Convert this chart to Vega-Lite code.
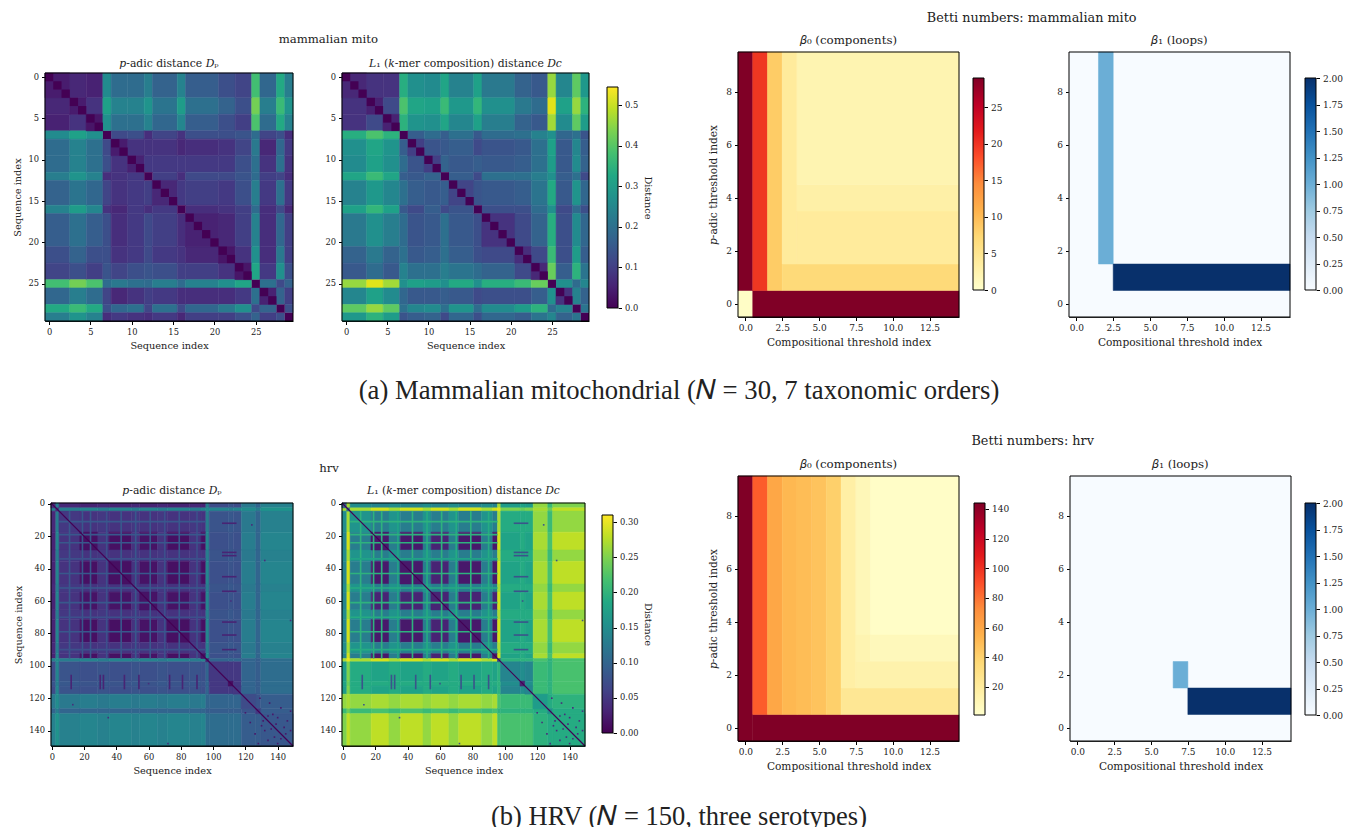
{"$schema":"https://vega.github.io/schema/vega-lite/v6.json","padding":{"left":11,"top":11,"right":0,"bottom":0},"background":"white","data":{"values":[{}]},
"config":{"view":{"stroke":null},"axis":{"labelFont":"DejaVu Serif","titleFont":"DejaVu Serif","labelFontSize":8.3,"titleFontSize":9.75,"titleFontWeight":"normal","grid":false,"tickColor":"black","domainColor":"black","tickSize":3.5,"labelColor":"#222","titleColor":"#222","labelPadding":3,"titlePadding":5,"labelOverlap":false,"labelFlush":false,"zindex":1},"title":{"font":"DejaVu Serif","fontSize":10.8,"fontWeight":"normal","color":"#222","offset":5},"rect":{"strokeWidth":0.5}},
"datasets":{
"mb":[
{"i":-0.5,"i2":2.5,"j":-0.5,"j2":2.5,"p":0.04,"c":0.06},{"i":-0.5,"i2":2.5,"j":2.5,"j2":4.5,"p":0.06,"c":0.08},{"i":-0.5,"i2":2.5,"j":4.5,"j2":6.5,"p":0.05,"c":0.08},{"i":-0.5,"i2":2.5,"j":6.5,"j2":7.5,"p":0.26,"c":0.34},{"i":-0.5,"i2":2.5,"j":7.5,"j2":9.5,"p":0.19,"c":0.27},{"i":-0.5,"i2":2.5,"j":9.5,"j2":11.5,"p":0.19,"c":0.26},{"i":-0.5,"i2":2.5,"j":11.5,"j2":12.5,"p":0.23,"c":0.32},{"i":-0.5,"i2":2.5,"j":12.5,"j2":15.5,"p":0.17,"c":0.24},{"i":-0.5,"i2":2.5,"j":15.5,"j2":16.5,"p":0.24,"c":0.31},{"i":-0.5,"i2":2.5,"j":16.5,"j2":20.5,"p":0.16,"c":0.22},{"i":-0.5,"i2":2.5,"j":20.5,"j2":22.5,"p":0.13,"c":0.17},{"i":-0.5,"i2":2.5,"j":22.5,"j2":24.5,"p":0.11,"c":0.15},{"i":-0.5,"i2":2.5,"j":24.5,"j2":25.5,"p":0.38,"c":0.46},{"i":-0.5,"i2":2.5,"j":25.5,"j2":27.5,"p":0.18,"c":0.25},{"i":-0.5,"i2":2.5,"j":27.5,"j2":28.5,"p":0.33,"c":0.41},{"i":-0.5,"i2":2.5,"j":28.5,"j2":29.5,"p":0.23,"c":0.29},
{"i":2.5,"i2":4.5,"j":2.5,"j2":4.5,"p":0.04,"c":0.05},{"i":2.5,"i2":4.5,"j":4.5,"j2":6.5,"p":0.08,"c":0.12},{"i":2.5,"i2":4.5,"j":6.5,"j2":7.5,"p":0.31,"c":0.39},{"i":2.5,"i2":4.5,"j":7.5,"j2":9.5,"p":0.24,"c":0.32},{"i":2.5,"i2":4.5,"j":9.5,"j2":11.5,"p":0.24,"c":0.31},{"i":2.5,"i2":4.5,"j":11.5,"j2":12.5,"p":0.28,"c":0.37},{"i":2.5,"i2":4.5,"j":12.5,"j2":15.5,"p":0.21,"c":0.29},{"i":2.5,"i2":4.5,"j":15.5,"j2":16.5,"p":0.3,"c":0.36},{"i":2.5,"i2":4.5,"j":16.5,"j2":20.5,"p":0.2,"c":0.27},{"i":2.5,"i2":4.5,"j":20.5,"j2":22.5,"p":0.17,"c":0.22},{"i":2.5,"i2":4.5,"j":22.5,"j2":24.5,"p":0.13,"c":0.19},{"i":2.5,"i2":4.5,"j":24.5,"j2":25.5,"p":0.43,"c":0.52},{"i":2.5,"i2":4.5,"j":25.5,"j2":27.5,"p":0.23,"c":0.31},{"i":2.5,"i2":4.5,"j":27.5,"j2":28.5,"p":0.37,"c":0.46},{"i":2.5,"i2":4.5,"j":28.5,"j2":29.5,"p":0.28,"c":0.35},
{"i":4.5,"i2":6.5,"j":4.5,"j2":6.5,"p":0.03,"c":0.05},{"i":4.5,"i2":6.5,"j":6.5,"j2":7.5,"p":0.27,"c":0.35},{"i":4.5,"i2":6.5,"j":7.5,"j2":9.5,"p":0.2,"c":0.28},{"i":4.5,"i2":6.5,"j":9.5,"j2":11.5,"p":0.2,"c":0.27},{"i":4.5,"i2":6.5,"j":11.5,"j2":12.5,"p":0.24,"c":0.32},{"i":4.5,"i2":6.5,"j":12.5,"j2":15.5,"p":0.18,"c":0.25},{"i":4.5,"i2":6.5,"j":15.5,"j2":16.5,"p":0.25,"c":0.31},{"i":4.5,"i2":6.5,"j":16.5,"j2":20.5,"p":0.16,"c":0.23},{"i":4.5,"i2":6.5,"j":20.5,"j2":22.5,"p":0.13,"c":0.17},{"i":4.5,"i2":6.5,"j":22.5,"j2":24.5,"p":0.1,"c":0.15},{"i":4.5,"i2":6.5,"j":24.5,"j2":25.5,"p":0.39,"c":0.47},{"i":4.5,"i2":6.5,"j":25.5,"j2":27.5,"p":0.19,"c":0.26},{"i":4.5,"i2":6.5,"j":27.5,"j2":28.5,"p":0.33,"c":0.41},{"i":4.5,"i2":6.5,"j":28.5,"j2":29.5,"p":0.24,"c":0.3},
{"i":6.5,"i2":7.5,"j":7.5,"j2":9.5,"p":0.12,"c":0.16},{"i":6.5,"i2":7.5,"j":9.5,"j2":11.5,"p":0.13,"c":0.19},{"i":6.5,"i2":7.5,"j":11.5,"j2":12.5,"p":0.07,"c":0.16},{"i":6.5,"i2":7.5,"j":12.5,"j2":15.5,"p":0.11,"c":0.2},{"i":6.5,"i2":7.5,"j":15.5,"j2":16.5,"p":0.08,"c":0.15},{"i":6.5,"i2":7.5,"j":16.5,"j2":20.5,"p":0.13,"c":0.19},{"i":6.5,"i2":7.5,"j":20.5,"j2":22.5,"p":0.13,"c":0.2},{"i":6.5,"i2":7.5,"j":22.5,"j2":24.5,"p":0.14,"c":0.24},{"i":6.5,"i2":7.5,"j":24.5,"j2":25.5,"p":0.19,"c":0.27},{"i":6.5,"i2":7.5,"j":25.5,"j2":27.5,"p":0.11,"c":0.18},{"i":6.5,"i2":7.5,"j":27.5,"j2":28.5,"p":0.13,"c":0.2},{"i":6.5,"i2":7.5,"j":28.5,"j2":29.5,"p":0.07,"c":0.14},
{"i":7.5,"i2":9.5,"j":7.5,"j2":9.5,"p":0.04,"c":0.1},{"i":7.5,"i2":9.5,"j":9.5,"j2":11.5,"p":0.08,"c":0.14},{"i":7.5,"i2":9.5,"j":11.5,"j2":12.5,"p":0.08,"c":0.15},{"i":7.5,"i2":9.5,"j":12.5,"j2":15.5,"p":0.08,"c":0.16},{"i":7.5,"i2":9.5,"j":15.5,"j2":16.5,"p":0.06,"c":0.12},{"i":7.5,"i2":9.5,"j":16.5,"j2":20.5,"p":0.07,"c":0.14},{"i":7.5,"i2":9.5,"j":20.5,"j2":22.5,"p":0.08,"c":0.15},{"i":7.5,"i2":9.5,"j":22.5,"j2":24.5,"p":0.11,"c":0.2},{"i":7.5,"i2":9.5,"j":24.5,"j2":25.5,"p":0.22,"c":0.31},{"i":7.5,"i2":9.5,"j":25.5,"j2":27.5,"p":0.06,"c":0.15},{"i":7.5,"i2":9.5,"j":27.5,"j2":28.5,"p":0.18,"c":0.25},{"i":7.5,"i2":9.5,"j":28.5,"j2":29.5,"p":0.09,"c":0.16},
{"i":9.5,"i2":11.5,"j":9.5,"j2":11.5,"p":0.05,"c":0.1},{"i":9.5,"i2":11.5,"j":11.5,"j2":12.5,"p":0.09,"c":0.17},{"i":9.5,"i2":11.5,"j":12.5,"j2":15.5,"p":0.09,"c":0.15},{"i":9.5,"i2":11.5,"j":15.5,"j2":16.5,"p":0.09,"c":0.16},{"i":9.5,"i2":11.5,"j":16.5,"j2":20.5,"p":0.09,"c":0.15},{"i":9.5,"i2":11.5,"j":20.5,"j2":22.5,"p":0.09,"c":0.16},{"i":9.5,"i2":11.5,"j":22.5,"j2":24.5,"p":0.13,"c":0.2},{"i":9.5,"i2":11.5,"j":24.5,"j2":25.5,"p":0.2,"c":0.3},{"i":9.5,"i2":11.5,"j":25.5,"j2":27.5,"p":0.08,"c":0.15},{"i":9.5,"i2":11.5,"j":27.5,"j2":28.5,"p":0.2,"c":0.26},{"i":9.5,"i2":11.5,"j":28.5,"j2":29.5,"p":0.08,"c":0.17},
{"i":11.5,"i2":12.5,"j":12.5,"j2":15.5,"p":0.1,"c":0.16},{"i":11.5,"i2":12.5,"j":15.5,"j2":16.5,"p":0.07,"c":0.12},{"i":11.5,"i2":12.5,"j":16.5,"j2":20.5,"p":0.12,"c":0.2},{"i":11.5,"i2":12.5,"j":20.5,"j2":22.5,"p":0.12,"c":0.2},{"i":11.5,"i2":12.5,"j":22.5,"j2":24.5,"p":0.14,"c":0.23},{"i":11.5,"i2":12.5,"j":24.5,"j2":25.5,"p":0.19,"c":0.27},{"i":11.5,"i2":12.5,"j":25.5,"j2":27.5,"p":0.1,"c":0.16},{"i":11.5,"i2":12.5,"j":27.5,"j2":28.5,"p":0.11,"c":0.2},{"i":11.5,"i2":12.5,"j":28.5,"j2":29.5,"p":0.07,"c":0.12},
{"i":12.5,"i2":15.5,"j":12.5,"j2":15.5,"p":0.06,"c":0.11},{"i":12.5,"i2":15.5,"j":15.5,"j2":16.5,"p":0.09,"c":0.14},{"i":12.5,"i2":15.5,"j":16.5,"j2":20.5,"p":0.1,"c":0.15},{"i":12.5,"i2":15.5,"j":20.5,"j2":22.5,"p":0.09,"c":0.16},{"i":12.5,"i2":15.5,"j":22.5,"j2":24.5,"p":0.13,"c":0.21},{"i":12.5,"i2":15.5,"j":24.5,"j2":25.5,"p":0.23,"c":0.33},{"i":12.5,"i2":15.5,"j":25.5,"j2":27.5,"p":0.09,"c":0.15},{"i":12.5,"i2":15.5,"j":27.5,"j2":28.5,"p":0.2,"c":0.28},{"i":12.5,"i2":15.5,"j":28.5,"j2":29.5,"p":0.09,"c":0.18},
{"i":15.5,"i2":16.5,"j":16.5,"j2":20.5,"p":0.07,"c":0.13},{"i":15.5,"i2":16.5,"j":20.5,"j2":22.5,"p":0.08,"c":0.13},{"i":15.5,"i2":16.5,"j":22.5,"j2":24.5,"p":0.1,"c":0.19},{"i":15.5,"i2":16.5,"j":24.5,"j2":25.5,"p":0.19,"c":0.27},{"i":15.5,"i2":16.5,"j":25.5,"j2":27.5,"p":0.07,"c":0.12},{"i":15.5,"i2":16.5,"j":27.5,"j2":28.5,"p":0.12,"c":0.19},{"i":15.5,"i2":16.5,"j":28.5,"j2":29.5,"p":0.06,"c":0.13},
{"i":16.5,"i2":20.5,"j":16.5,"j2":20.5,"p":0.05,"c":0.08},{"i":16.5,"i2":20.5,"j":20.5,"j2":22.5,"p":0.06,"c":0.12},{"i":16.5,"i2":20.5,"j":22.5,"j2":24.5,"p":0.1,"c":0.17},{"i":16.5,"i2":20.5,"j":24.5,"j2":25.5,"p":0.24,"c":0.34},{"i":16.5,"i2":20.5,"j":25.5,"j2":27.5,"p":0.07,"c":0.13},{"i":16.5,"i2":20.5,"j":27.5,"j2":28.5,"p":0.18,"c":0.26},{"i":16.5,"i2":20.5,"j":28.5,"j2":29.5,"p":0.1,"c":0.18},
{"i":20.5,"i2":22.5,"j":20.5,"j2":22.5,"p":0.03,"c":0.07},{"i":20.5,"i2":22.5,"j":22.5,"j2":24.5,"p":0.08,"c":0.12},{"i":20.5,"i2":22.5,"j":24.5,"j2":25.5,"p":0.27,"c":0.37},{"i":20.5,"i2":22.5,"j":25.5,"j2":27.5,"p":0.07,"c":0.13},{"i":20.5,"i2":22.5,"j":27.5,"j2":28.5,"p":0.22,"c":0.3},{"i":20.5,"i2":22.5,"j":28.5,"j2":29.5,"p":0.1,"c":0.16},
{"i":22.5,"i2":24.5,"j":22.5,"j2":24.5,"p":0.03,"c":0.06},{"i":22.5,"i2":24.5,"j":24.5,"j2":25.5,"p":0.32,"c":0.42},{"i":22.5,"i2":24.5,"j":25.5,"j2":27.5,"p":0.09,"c":0.16},{"i":22.5,"i2":24.5,"j":27.5,"j2":28.5,"p":0.27,"c":0.35},{"i":22.5,"i2":24.5,"j":28.5,"j2":29.5,"p":0.13,"c":0.21},
{"i":24.5,"i2":25.5,"j":25.5,"j2":27.5,"p":0.2,"c":0.27},{"i":24.5,"i2":25.5,"j":27.5,"j2":28.5,"p":0.12,"c":0.19},{"i":24.5,"i2":25.5,"j":28.5,"j2":29.5,"p":0.17,"c":0.25},
{"i":25.5,"i2":27.5,"j":25.5,"j2":27.5,"p":0.05,"c":0.08},{"i":25.5,"i2":27.5,"j":27.5,"j2":28.5,"p":0.17,"c":0.24},{"i":25.5,"i2":27.5,"j":28.5,"j2":29.5,"p":0.1,"c":0.17},
{"i":27.5,"i2":28.5,"j":28.5,"j2":29.5,"p":0.13,"c":0.21}
],
"md":[{"a":-0.5,"b":0.5,"v":0},{"a":0.5,"b":1.5,"v":0},{"a":1.5,"b":2.5,"v":0},{"a":2.5,"b":3.5,"v":0},{"a":3.5,"b":4.5,"v":0},{"a":4.5,"b":5.5,"v":0},{"a":5.5,"b":6.5,"v":0},{"a":6.5,"b":7.5,"v":0},{"a":7.5,"b":8.5,"v":0},{"a":8.5,"b":9.5,"v":0},{"a":9.5,"b":10.5,"v":0},{"a":10.5,"b":11.5,"v":0},{"a":11.5,"b":12.5,"v":0},{"a":12.5,"b":13.5,"v":0},{"a":13.5,"b":14.5,"v":0},{"a":14.5,"b":15.5,"v":0},{"a":15.5,"b":16.5,"v":0},{"a":16.5,"b":17.5,"v":0},{"a":17.5,"b":18.5,"v":0},{"a":18.5,"b":19.5,"v":0},{"a":19.5,"b":20.5,"v":0},{"a":20.5,"b":21.5,"v":0},{"a":21.5,"b":22.5,"v":0},{"a":22.5,"b":23.5,"v":0},{"a":23.5,"b":24.5,"v":0},{"a":24.5,"b":25.5,"v":0},{"a":25.5,"b":26.5,"v":0},{"a":26.5,"b":27.5,"v":0},{"a":27.5,"b":28.5,"v":0},{"a":28.5,"b":29.5,"v":0}],
"hb":[
{"i":-0.5,"i2":2.5,"j":-0.5,"j2":2.5,"p":0.04,"c":0.1},{"i":-0.5,"i2":2.5,"j":2.5,"j2":4.5,"p":0.13,"c":0.27},{"i":-0.5,"i2":2.5,"j":4.5,"j2":17.5,"p":0.035,"c":0.15},{"i":-0.5,"i2":2.5,"j":17.5,"j2":28.5,"p":0.03,"c":0.14},{"i":-0.5,"i2":2.5,"j":28.5,"j2":35.5,"p":0.035,"c":0.15},{"i":-0.5,"i2":2.5,"j":35.5,"j2":49.5,"p":0.03,"c":0.14},{"i":-0.5,"i2":2.5,"j":49.5,"j2":54.5,"p":0.035,"c":0.15},{"i":-0.5,"i2":2.5,"j":54.5,"j2":65.5,"p":0.03,"c":0.14},{"i":-0.5,"i2":2.5,"j":65.5,"j2":71.5,"p":0.035,"c":0.15},{"i":-0.5,"i2":2.5,"j":71.5,"j2":85.5,"p":0.03,"c":0.14},{"i":-0.5,"i2":2.5,"j":85.5,"j2":92.5,"p":0.035,"c":0.15},{"i":-0.5,"i2":2.5,"j":92.5,"j2":95.5,"p":0.03,"c":0.14},{"i":-0.5,"i2":2.5,"j":95.5,"j2":97.5,"p":0.13,"c":0.27},{"i":-0.5,"i2":2.5,"j":97.5,"j2":109.5,"p":0.07,"c":0.17},{"i":-0.5,"i2":2.5,"j":109.5,"j2":112.5,"p":0.08,"c":0.18},{"i":-0.5,"i2":2.5,"j":112.5,"j2":117.5,"p":0.07,"c":0.17},{"i":-0.5,"i2":2.5,"j":117.5,"j2":126.5,"p":0.125,"c":0.26},{"i":-0.5,"i2":2.5,"j":126.5,"j2":129.5,"p":0.1,"c":0.21},{"i":-0.5,"i2":2.5,"j":129.5,"j2":149.5,"p":0.135,"c":0.25},
{"i":2.5,"i2":4.5,"j":2.5,"j2":4.5,"p":0.04,"c":0.12},{"i":2.5,"i2":4.5,"j":4.5,"j2":17.5,"p":0.13,"c":0.27},{"i":2.5,"i2":4.5,"j":17.5,"j2":28.5,"p":0.14,"c":0.29},{"i":2.5,"i2":4.5,"j":28.5,"j2":35.5,"p":0.13,"c":0.27},{"i":2.5,"i2":4.5,"j":35.5,"j2":49.5,"p":0.14,"c":0.29},{"i":2.5,"i2":4.5,"j":49.5,"j2":54.5,"p":0.13,"c":0.27},{"i":2.5,"i2":4.5,"j":54.5,"j2":65.5,"p":0.14,"c":0.29},{"i":2.5,"i2":4.5,"j":65.5,"j2":71.5,"p":0.13,"c":0.27},{"i":2.5,"i2":4.5,"j":71.5,"j2":85.5,"p":0.14,"c":0.29},{"i":2.5,"i2":4.5,"j":85.5,"j2":92.5,"p":0.13,"c":0.27},{"i":2.5,"i2":4.5,"j":92.5,"j2":95.5,"p":0.14,"c":0.29},{"i":2.5,"i2":4.5,"j":95.5,"j2":97.5,"p":0.15,"c":0.3},{"i":2.5,"i2":4.5,"j":97.5,"j2":109.5,"p":0.14,"c":0.25},{"i":2.5,"i2":4.5,"j":109.5,"j2":112.5,"p":0.13,"c":0.24},{"i":2.5,"i2":4.5,"j":112.5,"j2":117.5,"p":0.14,"c":0.25},{"i":2.5,"i2":4.5,"j":117.5,"j2":126.5,"p":0.15,"c":0.27},{"i":2.5,"i2":4.5,"j":126.5,"j2":129.5,"p":0.13,"c":0.24},{"i":2.5,"i2":4.5,"j":129.5,"j2":149.5,"p":0.16,"c":0.28},
{"i":4.5,"i2":17.5,"j":4.5,"j2":17.5,"p":0.05,"c":0.16},{"i":4.5,"i2":17.5,"j":17.5,"j2":28.5,"p":0.045,"c":0.13},{"i":4.5,"i2":17.5,"j":28.5,"j2":35.5,"p":0.05,"c":0.16},{"i":4.5,"i2":17.5,"j":35.5,"j2":49.5,"p":0.045,"c":0.13},{"i":4.5,"i2":17.5,"j":49.5,"j2":54.5,"p":0.05,"c":0.16},{"i":4.5,"i2":17.5,"j":54.5,"j2":65.5,"p":0.045,"c":0.13},{"i":4.5,"i2":17.5,"j":65.5,"j2":71.5,"p":0.05,"c":0.16},{"i":4.5,"i2":17.5,"j":71.5,"j2":85.5,"p":0.045,"c":0.13},{"i":4.5,"i2":17.5,"j":85.5,"j2":92.5,"p":0.05,"c":0.16},{"i":4.5,"i2":17.5,"j":92.5,"j2":95.5,"p":0.045,"c":0.13},{"i":4.5,"i2":17.5,"j":95.5,"j2":97.5,"p":0.13,"c":0.27},{"i":4.5,"i2":17.5,"j":97.5,"j2":109.5,"p":0.08,"c":0.19},{"i":4.5,"i2":17.5,"j":109.5,"j2":112.5,"p":0.085,"c":0.19},{"i":4.5,"i2":17.5,"j":112.5,"j2":117.5,"p":0.08,"c":0.19},{"i":4.5,"i2":17.5,"j":117.5,"j2":126.5,"p":0.125,"c":0.26},{"i":4.5,"i2":17.5,"j":126.5,"j2":129.5,"p":0.1,"c":0.21},{"i":4.5,"i2":17.5,"j":129.5,"j2":149.5,"p":0.135,"c":0.26},
{"i":17.5,"i2":28.5,"j":17.5,"j2":28.5,"p":0.012,"c":0.02},{"i":17.5,"i2":28.5,"j":28.5,"j2":35.5,"p":0.045,"c":0.13},{"i":17.5,"i2":28.5,"j":35.5,"j2":49.5,"p":0.012,"c":0.02},{"i":17.5,"i2":28.5,"j":49.5,"j2":54.5,"p":0.045,"c":0.13},{"i":17.5,"i2":28.5,"j":54.5,"j2":65.5,"p":0.015,"c":0.03},{"i":17.5,"i2":28.5,"j":65.5,"j2":71.5,"p":0.045,"c":0.13},{"i":17.5,"i2":28.5,"j":71.5,"j2":85.5,"p":0.012,"c":0.02},{"i":17.5,"i2":28.5,"j":85.5,"j2":92.5,"p":0.045,"c":0.13},{"i":17.5,"i2":28.5,"j":92.5,"j2":95.5,"p":0.012,"c":0.02},{"i":17.5,"i2":28.5,"j":95.5,"j2":97.5,"p":0.14,"c":0.29},{"i":17.5,"i2":28.5,"j":97.5,"j2":109.5,"p":0.075,"c":0.18},{"i":17.5,"i2":28.5,"j":109.5,"j2":112.5,"p":0.08,"c":0.19},{"i":17.5,"i2":28.5,"j":112.5,"j2":117.5,"p":0.075,"c":0.18},{"i":17.5,"i2":28.5,"j":117.5,"j2":126.5,"p":0.13,"c":0.27},{"i":17.5,"i2":28.5,"j":126.5,"j2":129.5,"p":0.1,"c":0.22},{"i":17.5,"i2":28.5,"j":129.5,"j2":149.5,"p":0.14,"c":0.28},
{"i":28.5,"i2":35.5,"j":28.5,"j2":35.5,"p":0.05,"c":0.16},{"i":28.5,"i2":35.5,"j":35.5,"j2":49.5,"p":0.045,"c":0.13},{"i":28.5,"i2":35.5,"j":49.5,"j2":54.5,"p":0.05,"c":0.16},{"i":28.5,"i2":35.5,"j":54.5,"j2":65.5,"p":0.045,"c":0.13},{"i":28.5,"i2":35.5,"j":65.5,"j2":71.5,"p":0.05,"c":0.16},{"i":28.5,"i2":35.5,"j":71.5,"j2":85.5,"p":0.045,"c":0.13},{"i":28.5,"i2":35.5,"j":85.5,"j2":92.5,"p":0.05,"c":0.16},{"i":28.5,"i2":35.5,"j":92.5,"j2":95.5,"p":0.045,"c":0.13},{"i":28.5,"i2":35.5,"j":95.5,"j2":97.5,"p":0.13,"c":0.27},{"i":28.5,"i2":35.5,"j":97.5,"j2":109.5,"p":0.08,"c":0.19},{"i":28.5,"i2":35.5,"j":109.5,"j2":112.5,"p":0.085,"c":0.19},{"i":28.5,"i2":35.5,"j":112.5,"j2":117.5,"p":0.08,"c":0.19},{"i":28.5,"i2":35.5,"j":117.5,"j2":126.5,"p":0.125,"c":0.26},{"i":28.5,"i2":35.5,"j":126.5,"j2":129.5,"p":0.1,"c":0.21},{"i":28.5,"i2":35.5,"j":129.5,"j2":149.5,"p":0.135,"c":0.26},
{"i":35.5,"i2":49.5,"j":35.5,"j2":49.5,"p":0.012,"c":0.02},{"i":35.5,"i2":49.5,"j":49.5,"j2":54.5,"p":0.045,"c":0.13},{"i":35.5,"i2":49.5,"j":54.5,"j2":65.5,"p":0.015,"c":0.03},{"i":35.5,"i2":49.5,"j":65.5,"j2":71.5,"p":0.045,"c":0.13},{"i":35.5,"i2":49.5,"j":71.5,"j2":85.5,"p":0.012,"c":0.02},{"i":35.5,"i2":49.5,"j":85.5,"j2":92.5,"p":0.045,"c":0.13},{"i":35.5,"i2":49.5,"j":92.5,"j2":95.5,"p":0.012,"c":0.02},{"i":35.5,"i2":49.5,"j":95.5,"j2":97.5,"p":0.14,"c":0.29},{"i":35.5,"i2":49.5,"j":97.5,"j2":109.5,"p":0.075,"c":0.18},{"i":35.5,"i2":49.5,"j":109.5,"j2":112.5,"p":0.08,"c":0.19},{"i":35.5,"i2":49.5,"j":112.5,"j2":117.5,"p":0.075,"c":0.18},{"i":35.5,"i2":49.5,"j":117.5,"j2":126.5,"p":0.13,"c":0.27},{"i":35.5,"i2":49.5,"j":126.5,"j2":129.5,"p":0.1,"c":0.22},{"i":35.5,"i2":49.5,"j":129.5,"j2":149.5,"p":0.14,"c":0.28},
{"i":49.5,"i2":54.5,"j":49.5,"j2":54.5,"p":0.05,"c":0.16},{"i":49.5,"i2":54.5,"j":54.5,"j2":65.5,"p":0.045,"c":0.13},{"i":49.5,"i2":54.5,"j":65.5,"j2":71.5,"p":0.05,"c":0.16},{"i":49.5,"i2":54.5,"j":71.5,"j2":85.5,"p":0.045,"c":0.13},{"i":49.5,"i2":54.5,"j":85.5,"j2":92.5,"p":0.05,"c":0.16},{"i":49.5,"i2":54.5,"j":92.5,"j2":95.5,"p":0.045,"c":0.13},{"i":49.5,"i2":54.5,"j":95.5,"j2":97.5,"p":0.13,"c":0.27},{"i":49.5,"i2":54.5,"j":97.5,"j2":109.5,"p":0.08,"c":0.19},{"i":49.5,"i2":54.5,"j":109.5,"j2":112.5,"p":0.085,"c":0.19},{"i":49.5,"i2":54.5,"j":112.5,"j2":117.5,"p":0.08,"c":0.19},{"i":49.5,"i2":54.5,"j":117.5,"j2":126.5,"p":0.125,"c":0.26},{"i":49.5,"i2":54.5,"j":126.5,"j2":129.5,"p":0.1,"c":0.21},{"i":49.5,"i2":54.5,"j":129.5,"j2":149.5,"p":0.135,"c":0.26},
{"i":54.5,"i2":65.5,"j":54.5,"j2":65.5,"p":0.015,"c":0.03},{"i":54.5,"i2":65.5,"j":65.5,"j2":71.5,"p":0.045,"c":0.13},{"i":54.5,"i2":65.5,"j":71.5,"j2":85.5,"p":0.015,"c":0.03},{"i":54.5,"i2":65.5,"j":85.5,"j2":92.5,"p":0.045,"c":0.13},{"i":54.5,"i2":65.5,"j":92.5,"j2":95.5,"p":0.015,"c":0.03},{"i":54.5,"i2":65.5,"j":95.5,"j2":97.5,"p":0.14,"c":0.29},{"i":54.5,"i2":65.5,"j":97.5,"j2":109.5,"p":0.075,"c":0.18},{"i":54.5,"i2":65.5,"j":109.5,"j2":112.5,"p":0.08,"c":0.19},{"i":54.5,"i2":65.5,"j":112.5,"j2":117.5,"p":0.075,"c":0.18},{"i":54.5,"i2":65.5,"j":117.5,"j2":126.5,"p":0.13,"c":0.27},{"i":54.5,"i2":65.5,"j":126.5,"j2":129.5,"p":0.1,"c":0.22},{"i":54.5,"i2":65.5,"j":129.5,"j2":149.5,"p":0.14,"c":0.28},
{"i":65.5,"i2":71.5,"j":65.5,"j2":71.5,"p":0.05,"c":0.16},{"i":65.5,"i2":71.5,"j":71.5,"j2":85.5,"p":0.045,"c":0.13},{"i":65.5,"i2":71.5,"j":85.5,"j2":92.5,"p":0.05,"c":0.16},{"i":65.5,"i2":71.5,"j":92.5,"j2":95.5,"p":0.045,"c":0.13},{"i":65.5,"i2":71.5,"j":95.5,"j2":97.5,"p":0.13,"c":0.27},{"i":65.5,"i2":71.5,"j":97.5,"j2":109.5,"p":0.08,"c":0.19},{"i":65.5,"i2":71.5,"j":109.5,"j2":112.5,"p":0.085,"c":0.19},{"i":65.5,"i2":71.5,"j":112.5,"j2":117.5,"p":0.08,"c":0.19},{"i":65.5,"i2":71.5,"j":117.5,"j2":126.5,"p":0.125,"c":0.26},{"i":65.5,"i2":71.5,"j":126.5,"j2":129.5,"p":0.1,"c":0.21},{"i":65.5,"i2":71.5,"j":129.5,"j2":149.5,"p":0.135,"c":0.26},
{"i":71.5,"i2":85.5,"j":71.5,"j2":85.5,"p":0.012,"c":0.02},{"i":71.5,"i2":85.5,"j":85.5,"j2":92.5,"p":0.045,"c":0.13},{"i":71.5,"i2":85.5,"j":92.5,"j2":95.5,"p":0.012,"c":0.02},{"i":71.5,"i2":85.5,"j":95.5,"j2":97.5,"p":0.14,"c":0.29},{"i":71.5,"i2":85.5,"j":97.5,"j2":109.5,"p":0.075,"c":0.18},{"i":71.5,"i2":85.5,"j":109.5,"j2":112.5,"p":0.08,"c":0.19},{"i":71.5,"i2":85.5,"j":112.5,"j2":117.5,"p":0.075,"c":0.18},{"i":71.5,"i2":85.5,"j":117.5,"j2":126.5,"p":0.13,"c":0.27},{"i":71.5,"i2":85.5,"j":126.5,"j2":129.5,"p":0.1,"c":0.22},{"i":71.5,"i2":85.5,"j":129.5,"j2":149.5,"p":0.14,"c":0.28},
{"i":85.5,"i2":92.5,"j":85.5,"j2":92.5,"p":0.05,"c":0.16},{"i":85.5,"i2":92.5,"j":92.5,"j2":95.5,"p":0.045,"c":0.13},{"i":85.5,"i2":92.5,"j":95.5,"j2":97.5,"p":0.13,"c":0.27},{"i":85.5,"i2":92.5,"j":97.5,"j2":109.5,"p":0.08,"c":0.19},{"i":85.5,"i2":92.5,"j":109.5,"j2":112.5,"p":0.085,"c":0.19},{"i":85.5,"i2":92.5,"j":112.5,"j2":117.5,"p":0.08,"c":0.19},{"i":85.5,"i2":92.5,"j":117.5,"j2":126.5,"p":0.125,"c":0.26},{"i":85.5,"i2":92.5,"j":126.5,"j2":129.5,"p":0.1,"c":0.21},{"i":85.5,"i2":92.5,"j":129.5,"j2":149.5,"p":0.135,"c":0.26},
{"i":92.5,"i2":95.5,"j":92.5,"j2":95.5,"p":0.012,"c":0.02},{"i":92.5,"i2":95.5,"j":95.5,"j2":97.5,"p":0.14,"c":0.29},{"i":92.5,"i2":95.5,"j":97.5,"j2":109.5,"p":0.075,"c":0.18},{"i":92.5,"i2":95.5,"j":109.5,"j2":112.5,"p":0.08,"c":0.19},{"i":92.5,"i2":95.5,"j":112.5,"j2":117.5,"p":0.075,"c":0.18},{"i":92.5,"i2":95.5,"j":117.5,"j2":126.5,"p":0.13,"c":0.27},{"i":92.5,"i2":95.5,"j":126.5,"j2":129.5,"p":0.1,"c":0.22},{"i":92.5,"i2":95.5,"j":129.5,"j2":149.5,"p":0.14,"c":0.28},
{"i":95.5,"i2":97.5,"j":95.5,"j2":97.5,"p":0.03,"c":0.08},{"i":95.5,"i2":97.5,"j":97.5,"j2":109.5,"p":0.1,"c":0.2},{"i":95.5,"i2":97.5,"j":109.5,"j2":112.5,"p":0.1,"c":0.2},{"i":95.5,"i2":97.5,"j":112.5,"j2":117.5,"p":0.1,"c":0.2},{"i":95.5,"i2":97.5,"j":117.5,"j2":126.5,"p":0.1,"c":0.22},{"i":95.5,"i2":97.5,"j":126.5,"j2":129.5,"p":0.09,"c":0.2},{"i":95.5,"i2":97.5,"j":129.5,"j2":149.5,"p":0.11,"c":0.22},
{"i":97.5,"i2":109.5,"j":97.5,"j2":109.5,"p":0.05,"c":0.14},{"i":97.5,"i2":109.5,"j":109.5,"j2":112.5,"p":0.05,"c":0.15},{"i":97.5,"i2":109.5,"j":112.5,"j2":117.5,"p":0.05,"c":0.14},{"i":97.5,"i2":109.5,"j":117.5,"j2":126.5,"p":0.1,"c":0.21},{"i":97.5,"i2":109.5,"j":126.5,"j2":129.5,"p":0.09,"c":0.2},{"i":97.5,"i2":109.5,"j":129.5,"j2":149.5,"p":0.11,"c":0.22},
{"i":109.5,"i2":112.5,"j":109.5,"j2":112.5,"p":0.01,"c":0.03},{"i":109.5,"i2":112.5,"j":112.5,"j2":117.5,"p":0.05,"c":0.15},{"i":109.5,"i2":112.5,"j":117.5,"j2":126.5,"p":0.1,"c":0.21},{"i":109.5,"i2":112.5,"j":126.5,"j2":129.5,"p":0.09,"c":0.2},{"i":109.5,"i2":112.5,"j":129.5,"j2":149.5,"p":0.11,"c":0.22},
{"i":112.5,"i2":117.5,"j":112.5,"j2":117.5,"p":0.05,"c":0.14},{"i":112.5,"i2":117.5,"j":117.5,"j2":126.5,"p":0.1,"c":0.21},{"i":112.5,"i2":117.5,"j":126.5,"j2":129.5,"p":0.09,"c":0.2},{"i":112.5,"i2":117.5,"j":129.5,"j2":149.5,"p":0.11,"c":0.22},
{"i":117.5,"i2":126.5,"j":117.5,"j2":126.5,"p":0.07,"c":0.17},{"i":117.5,"i2":126.5,"j":126.5,"j2":129.5,"p":0.08,"c":0.19},{"i":117.5,"i2":126.5,"j":129.5,"j2":149.5,"p":0.09,"c":0.2},
{"i":126.5,"i2":129.5,"j":126.5,"j2":129.5,"p":0.05,"c":0.15},{"i":126.5,"i2":129.5,"j":129.5,"j2":149.5,"p":0.09,"c":0.19},
{"i":129.5,"i2":149.5,"j":129.5,"j2":149.5,"p":0.085,"c":0.19}
],
"hs":[
{"i":10.5,"i2":11.5,"j":4.5,"j2":95.5,"p":0.085,"c":0.2},{"i":18.5,"i2":19.5,"j":4.5,"j2":95.5,"p":0.085,"c":0.2},{"i":23.5,"i2":24.5,"j":4.5,"j2":95.5,"p":0.085,"c":0.2},{"i":33.5,"i2":34.5,"j":4.5,"j2":95.5,"p":0.075,"c":0.18},{"i":42.5,"i2":43.5,"j":4.5,"j2":95.5,"p":0.085,"c":0.2},{"i":51.5,"i2":52.5,"j":4.5,"j2":95.5,"p":0.085,"c":0.19},{"i":60.5,"i2":61.5,"j":4.5,"j2":95.5,"p":0.085,"c":0.2},{"i":69.5,"i2":70.5,"j":4.5,"j2":95.5,"p":0.075,"c":0.19},{"i":78.5,"i2":79.5,"j":4.5,"j2":95.5,"p":0.085,"c":0.2},{"i":89.5,"i2":90.5,"j":4.5,"j2":95.5,"p":0.075,"c":0.19},
{"i":11.5,"i2":12.5,"j":105.5,"j2":114.5,"p":0.03,"c":0.08},{"i":29.5,"i2":30.5,"j":105.5,"j2":114.5,"p":0.03,"c":0.08},{"i":31.5,"i2":32.5,"j":105.5,"j2":114.5,"p":0.03,"c":0.08},{"i":44.5,"i2":45.5,"j":105.5,"j2":114.5,"p":0.03,"c":0.08},{"i":53.5,"i2":54.5,"j":105.5,"j2":114.5,"p":0.03,"c":0.08},{"i":72.5,"i2":73.5,"j":105.5,"j2":114.5,"p":0.03,"c":0.08},{"i":80.5,"i2":81.5,"j":105.5,"j2":114.5,"p":0.03,"c":0.08},{"i":89.5,"i2":90.5,"j":105.5,"j2":114.5,"p":0.03,"c":0.08},
{"i":119.5,"i2":120.5,"j":128.5,"j2":129.5,"p":0.02,"c":0.04},{"i":122.5,"i2":123.5,"j":134.5,"j2":135.5,"p":0.02,"c":0.04},{"i":125.5,"i2":126.5,"j":141.5,"j2":142.5,"p":0.02,"c":0.04},{"i":130.5,"i2":131.5,"j":133.5,"j2":134.5,"p":0.02,"c":0.04},{"i":131.5,"i2":132.5,"j":139.5,"j2":140.5,"p":0.02,"c":0.04},{"i":133.5,"i2":134.5,"j":145.5,"j2":146.5,"p":0.02,"c":0.04},{"i":135.5,"i2":136.5,"j":138.5,"j2":139.5,"p":0.02,"c":0.04},{"i":137.5,"i2":138.5,"j":143.5,"j2":144.5,"p":0.02,"c":0.04},{"i":139.5,"i2":140.5,"j":147.5,"j2":148.5,"p":0.02,"c":0.04},{"i":141.5,"i2":142.5,"j":144.5,"j2":145.5,"p":0.02,"c":0.04},{"i":127.5,"i2":128.5,"j":147.5,"j2":148.5,"p":0.02,"c":0.05},{"i":129.5,"i2":130.5,"j":136.5,"j2":137.5,"p":0.02,"c":0.04},{"i":34.5,"i2":35.5,"j":131.5,"j2":132.5,"p":0.04,"c":0.08},{"i":71.5,"i2":72.5,"j":147.5,"j2":148.5,"p":0.04,"c":0.08},{"i":12.5,"i2":13.5,"j":123.5,"j2":124.5,"p":0.04,"c":0.08},{"i":59.5,"i2":60.5,"j":110.5,"j2":111.5,"p":0.04,"c":0.08}
],
"hd":[{"a":-0.5,"v":0},{"a":149.5,"v":0}],
"a0":[{"x":-0.5,"x2":0.5,"y":-0.5,"y2":0.5,"v":0.5},{"x":0.5,"x2":14.5,"y":-0.5,"y2":0.5,"v":29},{"x":-0.5,"x2":0.5,"y":0.5,"y2":9.5,"v":29},{"x":0.5,"x2":1.5,"y":0.5,"y2":9.5,"v":20},{"x":1.5,"x2":2.5,"y":0.5,"y2":9.5,"v":8.5},{"x":2.5,"x2":14.5,"y":0.5,"y2":1.5,"v":7},{"x":2.5,"x2":3.5,"y":1.5,"y2":9.5,"v":4},{"x":3.5,"x2":14.5,"y":1.5,"y2":3.5,"v":4},{"x":3.5,"x2":14.5,"y":3.5,"y2":4.5,"v":3},{"x":3.5,"x2":14.5,"y":4.5,"y2":9.5,"v":2.2}],
"a1":[{"x":-0.5,"x2":14.5,"y":-0.5,"y2":9.5,"v":0},{"x":1.5,"x2":2.5,"y":1.5,"y2":9.5,"v":1},{"x":2.5,"x2":14.5,"y":0.5,"y2":1.5,"v":2}],
"b0":[{"x":-0.5,"x2":0.5,"y":-0.5,"y2":9.5,"v":144},{"x":0.5,"x2":14.5,"y":-0.5,"y2":0.5,"v":144},{"x":0.5,"x2":1.5,"y":0.5,"y2":9.5,"v":87},{"x":1.5,"x2":2.5,"y":0.5,"y2":9.5,"v":60},{"x":2.5,"x2":3.5,"y":0.5,"y2":9.5,"v":52},{"x":3.5,"x2":4.5,"y":0.5,"y2":9.5,"v":50},{"x":4.5,"x2":5.5,"y":0.5,"y2":9.5,"v":47},{"x":5.5,"x2":6.5,"y":0.5,"y2":9.5,"v":41},{"x":6.5,"x2":14.5,"y":0.5,"y2":1.5,"v":24},{"x":6.5,"x2":7.5,"y":1.5,"y2":9.5,"v":17},{"x":7.5,"x2":8.5,"y":3.5,"y2":9.5,"v":9},{"x":8.5,"x2":14.5,"y":3.5,"y2":9.5,"v":3},{"x":7.5,"x2":8.5,"y":2.5,"y2":3.5,"v":12},{"x":8.5,"x2":14.5,"y":2.5,"y2":3.5,"v":8},{"x":7.5,"x2":14.5,"y":1.5,"y2":2.5,"v":14}],
"b1":[{"x":-0.5,"x2":14.5,"y":-0.5,"y2":9.5,"v":0},{"x":6.5,"x2":7.5,"y":1.5,"y2":2.5,"v":1},{"x":7.5,"x2":14.5,"y":0.5,"y2":1.5,"v":2}]
},
"spacing":27,"vconcat":[
{"spacing":55,"hconcat":[
{"spacing":0,"title":{"text":"mammalian mito","anchor":"middle","dx":-3.5,"offset":5,"fontSize":11.7},"hconcat":[
{"width":1,"height":1,"mark":{"type":"rect","opacity":0}},
{"spacing":0,"bounds":"flush","resolve":{"scale":{"color":"independent","stroke":"independent"}},"vconcat":[{"width":1,"height":22,"mark":{"type":"rect","opacity":0}},
{"width":248,"height":248,"title":{"text":"𝑝-adic distance 𝐷ₚ","offset":3},"layer":[
{"data":{"name":"mb"},"mark":"rect","encoding":{"x":{"field":"i","type":"quantitative","scale":{"domain":[-0.5,29.5],"nice":false,"zero":false},"axis":{"values":[0,5,10,15,20,25],"title":"Sequence index"}},"x2":{"field":"i2"},"y":{"field":"j","type":"quantitative","scale":{"domain":[29.5,-0.5],"nice":false,"zero":false},"axis":{"values":[0,5,10,15,20,25],"title":"Sequence index"}},"y2":{"field":"j2"},"color":{"field":"p","type":"quantitative","scale":{"scheme":"viridis","domain":[0,0.545]},"legend":null},"stroke":{"field":"p","type":"quantitative","scale":{"scheme":"viridis","domain":[0,0.545]},"legend":null}}},
{"data":{"name":"mb"},"mark":"rect","encoding":{"x":{"field":"j","type":"quantitative"},"x2":{"field":"j2"},"y":{"field":"i","type":"quantitative"},"y2":{"field":"i2"},"color":{"field":"p","type":"quantitative"},"stroke":{"field":"p","type":"quantitative"}}},
{"data":{"name":"md"},"mark":"rect","encoding":{"x":{"field":"a","type":"quantitative"},"x2":{"field":"b"},"y":{"field":"a","type":"quantitative"},"y2":{"field":"b"},"color":{"field":"v","type":"quantitative"}}},
{"mark":{"type":"rect","fill":null,"stroke":"black","strokeWidth":1}}]}]},
{"width":30,"height":1,"mark":{"type":"rect","opacity":0}},
{"spacing":0,"bounds":"flush","resolve":{"scale":{"color":"independent","stroke":"independent"}},"vconcat":[{"width":1,"height":22,"mark":{"type":"rect","opacity":0}},
{"width":247,"height":248,"title":{"text":"𝐿₁ (𝑘-mer composition) distance 𝐷𝑐","offset":3},"layer":[
{"data":{"name":"mb"},"mark":"rect","encoding":{"x":{"field":"i","type":"quantitative","scale":{"domain":[-0.5,29.5],"nice":false,"zero":false},"axis":{"values":[0,5,10,15,20,25],"title":"Sequence index"}},"x2":{"field":"i2"},"y":{"field":"j","type":"quantitative","scale":{"domain":[29.5,-0.5],"nice":false,"zero":false},"axis":{"values":[0,5,10,15,20,25],"title":null}},"y2":{"field":"j2"},"color":{"field":"c","type":"quantitative","scale":{"scheme":"viridis","domain":[0,0.545]},"legend":null},"stroke":{"field":"c","type":"quantitative","scale":{"scheme":"viridis","domain":[0,0.545]},"legend":null}}},
{"data":{"name":"mb"},"mark":"rect","encoding":{"x":{"field":"j","type":"quantitative"},"x2":{"field":"j2"},"y":{"field":"i","type":"quantitative"},"y2":{"field":"i2"},"color":{"field":"c","type":"quantitative"},"stroke":{"field":"c","type":"quantitative"}}},
{"data":{"name":"md"},"mark":"rect","encoding":{"x":{"field":"a","type":"quantitative"},"x2":{"field":"b"},"y":{"field":"a","type":"quantitative"},"y2":{"field":"b"},"color":{"field":"v","type":"quantitative"}}},
{"mark":{"type":"rect","fill":null,"stroke":"black","strokeWidth":1}}]}]},
{"width":16,"height":1,"mark":{"type":"rect","opacity":0}},
{"spacing":0,"bounds":"flush","vconcat":[{"width":1,"height":36,"mark":{"type":"rect","opacity":0}},
{"width":11,"height":221,"data":{"values":[{"lo":0,"hi":0.545}]},"mark":{"type":"rect","stroke":"black","strokeWidth":1,"fill":{"x1":1,"y1":1,"x2":1,"y2":0,"gradient":"linear","stops":[{"offset":0,"color":"#440154"},{"offset":0.1,"color":"#482475"},{"offset":0.2,"color":"#414487"},{"offset":0.3,"color":"#355f8d"},{"offset":0.4,"color":"#2a788e"},{"offset":0.5,"color":"#21918c"},{"offset":0.6,"color":"#22a884"},{"offset":0.7,"color":"#44bf70"},{"offset":0.8,"color":"#7ad151"},{"offset":0.9,"color":"#bddf26"},{"offset":1,"color":"#fde725"}]}},"encoding":{"y":{"field":"lo","type":"quantitative","scale":{"domain":[0,0.545],"nice":false},"axis":{"orient":"right","values":[0,0.1,0.2,0.3,0.4,0.5],"format":".1f","title":"Distance","domain":false}},"y2":{"field":"hi"}}}]}
]},
{"spacing":0,"title":{"text":"Betti numbers: mammalian mito","anchor":"middle","dx":6,"offset":10,"fontSize":12.8},"hconcat":[
{"spacing":0,"bounds":"flush","resolve":{"scale":{"color":"independent","stroke":"independent"}},"vconcat":[{"width":1,"height":1,"mark":{"type":"rect","opacity":0}},
{"width":221,"height":265,"title":{"text":"𝛽₀ (components)","fontSize":11.8},"layer":[{"data":{"name":"a0"},"mark":"rect","encoding":{"x":{"field":"x","type":"quantitative","scale":{"domain":[-0.5,14.5],"nice":false,"zero":false},"axis":{"values":[0,2.5,5,7.5,10,12.5],"format":".1f","title":"Compositional threshold index","labelFontSize":9,"titleFontSize":10.6,"titlePadding":5}},"x2":{"field":"x2"},"y":{"field":"y","type":"quantitative","scale":{"domain":[-0.5,9.5],"nice":false,"zero":false},"axis":{"values":[0,2,4,6,8],"title":"𝑝-adic threshold index","labelFontSize":9,"titleFontSize":10.6,"titlePadding":7}},"y2":{"field":"y2"},"color":{"field":"v","type":"quantitative","scale":{"domain":[0,3.625,7.25,10.875,14.5,18.125,21.75,25.375,29],"range":["#ffffcc","#ffeda0","#fed976","#feb24c","#fd8d3c","#fc4e2a","#e31a1c","#bd0026","#800026"]},"legend":null},"stroke":{"field":"v","type":"quantitative","scale":{"domain":[0,3.625,7.25,10.875,14.5,18.125,21.75,25.375,29],"range":["#ffffcc","#ffeda0","#fed976","#feb24c","#fd8d3c","#fc4e2a","#e31a1c","#bd0026","#800026"]},"legend":null}}},{"mark":{"type":"rect","fill":null,"stroke":"black","strokeWidth":1}}]}]},
{"width":12,"height":1,"mark":{"type":"rect","opacity":0}},
{"spacing":0,"bounds":"flush","vconcat":[{"width":1,"height":27,"mark":{"type":"rect","opacity":0}},
{"width":11,"height":212,"data":{"values":[{"lo":0,"hi":29}]},"mark":{"type":"rect","stroke":"black","strokeWidth":1,"fill":{"x1":1,"y1":1,"x2":1,"y2":0,"gradient":"linear","stops":[{"offset":0,"color":"#ffffcc"},{"offset":0.125,"color":"#ffeda0"},{"offset":0.25,"color":"#fed976"},{"offset":0.375,"color":"#feb24c"},{"offset":0.5,"color":"#fd8d3c"},{"offset":0.625,"color":"#fc4e2a"},{"offset":0.75,"color":"#e31a1c"},{"offset":0.875,"color":"#bd0026"},{"offset":1,"color":"#800026"}]}},"encoding":{"y":{"field":"lo","type":"quantitative","scale":{"domain":[0,29],"nice":false},"axis":{"orient":"right","values":[0,5,10,15,20,25],"title":null,"domain":false,"labelFontSize":9}},"y2":{"field":"hi"}}}]},
{"width":54,"height":1,"mark":{"type":"rect","opacity":0}},
{"spacing":0,"bounds":"flush","resolve":{"scale":{"color":"independent","stroke":"independent"}},"vconcat":[{"width":1,"height":1,"mark":{"type":"rect","opacity":0}},
{"width":221,"height":265,"title":{"text":"𝛽₁ (loops)","fontSize":11.8},"layer":[{"data":{"name":"a1"},"mark":"rect","encoding":{"x":{"field":"x","type":"quantitative","scale":{"domain":[-0.5,14.5],"nice":false,"zero":false},"axis":{"values":[0,2.5,5,7.5,10,12.5],"format":".1f","title":"Compositional threshold index","labelFontSize":9,"titleFontSize":10.6}},"x2":{"field":"x2"},"y":{"field":"y","type":"quantitative","scale":{"domain":[-0.5,9.5],"nice":false,"zero":false},"axis":{"values":[0,2,4,6,8],"title":null,"labelFontSize":9}},"y2":{"field":"y2"},"color":{"field":"v","type":"quantitative","scale":{"domain":[0,0.25,0.5,0.75,1,1.25,1.5,1.75,2],"range":["#f7fbff","#deebf7","#c6dbef","#9ecae1","#6baed6","#4292c6","#2171b5","#08519c","#08306b"]},"legend":null},"stroke":{"field":"v","type":"quantitative","scale":{"domain":[0,0.25,0.5,0.75,1,1.25,1.5,1.75,2],"range":["#f7fbff","#deebf7","#c6dbef","#9ecae1","#6baed6","#4292c6","#2171b5","#08519c","#08306b"]},"legend":null}}},{"mark":{"type":"rect","fill":null,"stroke":"black","strokeWidth":1}}]}]},
{"width":13,"height":1,"mark":{"type":"rect","opacity":0}},
{"spacing":0,"bounds":"flush","vconcat":[{"width":1,"height":27,"mark":{"type":"rect","opacity":0}},
{"width":11,"height":212,"data":{"values":[{"lo":0,"hi":2}]},"mark":{"type":"rect","stroke":"black","strokeWidth":1,"fill":{"x1":1,"y1":1,"x2":1,"y2":0,"gradient":"linear","stops":[{"offset":0,"color":"#f7fbff"},{"offset":0.125,"color":"#deebf7"},{"offset":0.25,"color":"#c6dbef"},{"offset":0.375,"color":"#9ecae1"},{"offset":0.5,"color":"#6baed6"},{"offset":0.625,"color":"#4292c6"},{"offset":0.75,"color":"#2171b5"},{"offset":0.875,"color":"#08519c"},{"offset":1,"color":"#08306b"}]}},"encoding":{"y":{"field":"lo","type":"quantitative","scale":{"domain":[0,2],"nice":false},"axis":{"orient":"right","values":[0,0.25,0.5,0.75,1,1.25,1.5,1.75,2],"format":".2f","title":null,"domain":false,"labelFontSize":9}},"y2":{"field":"hi"}}}]}
]}
]},
{"width":1336,"height":2,"title":{"text":"(a) Mammalian mitochondrial (𝑁 = 30, 7 taxonomic orders)","offset":0,"font":"Liberation Serif","fontSize":26.7},"mark":{"type":"rect","opacity":0}},
{"spacing":55,"hconcat":[
{"spacing":0,"title":{"text":"hrv","anchor":"middle","dx":-3,"offset":0,"fontSize":11.7},"hconcat":[
{"width":2,"height":1,"mark":{"type":"rect","opacity":0}},
{"spacing":0,"bounds":"flush","resolve":{"scale":{"color":"independent","stroke":"independent"}},"vconcat":[{"width":1,"height":28,"mark":{"type":"rect","opacity":0}},
{"width":242,"height":243,"title":{"text":"𝑝-adic distance 𝐷ₚ","offset":3},"layer":[
{"data":{"name":"hb"},"mark":"rect","encoding":{"x":{"field":"i","type":"quantitative","scale":{"domain":[-0.5,149.5],"nice":false,"zero":false},"axis":{"values":[0,20,40,60,80,100,120,140],"tickCount":10,"title":"Sequence index"}},"x2":{"field":"i2"},"y":{"field":"j","type":"quantitative","scale":{"domain":[149.5,-0.5],"nice":false,"zero":false},"axis":{"values":[0,20,40,60,80,100,120,140],"tickCount":10,"title":"Sequence index"}},"y2":{"field":"j2"},"color":{"field":"p","type":"quantitative","scale":{"scheme":"viridis","domain":[0,0.31]},"legend":null},"stroke":{"field":"p","type":"quantitative","scale":{"scheme":"viridis","domain":[0,0.31]},"legend":null}}},
{"data":{"name":"hb"},"mark":"rect","encoding":{"x":{"field":"j","type":"quantitative"},"x2":{"field":"j2"},"y":{"field":"i","type":"quantitative"},"y2":{"field":"i2"},"color":{"field":"p","type":"quantitative"},"stroke":{"field":"p","type":"quantitative"}}},
{"data":{"name":"hs"},"mark":"rect","encoding":{"x":{"field":"i","type":"quantitative"},"x2":{"field":"i2"},"y":{"field":"j","type":"quantitative"},"y2":{"field":"j2"},"color":{"field":"p","type":"quantitative"}}},
{"data":{"name":"hs"},"mark":"rect","encoding":{"x":{"field":"j","type":"quantitative"},"x2":{"field":"j2"},"y":{"field":"i","type":"quantitative"},"y2":{"field":"i2"},"color":{"field":"p","type":"quantitative"}}},
{"data":{"name":"hd"},"mark":{"type":"line","strokeWidth":1.2,"color":"#440154"},"encoding":{"x":{"field":"a","type":"quantitative"},"y":{"field":"a","type":"quantitative"}}},
{"mark":{"type":"rect","fill":null,"stroke":"black","strokeWidth":1}}]}]},
{"width":23,"height":1,"mark":{"type":"rect","opacity":0}},
{"spacing":0,"bounds":"flush","resolve":{"scale":{"color":"independent","stroke":"independent"}},"vconcat":[{"width":1,"height":28,"mark":{"type":"rect","opacity":0}},
{"width":243,"height":243,"title":{"text":"𝐿₁ (𝑘-mer composition) distance 𝐷𝑐","offset":3},"layer":[
{"data":{"name":"hb"},"mark":"rect","encoding":{"x":{"field":"i","type":"quantitative","scale":{"domain":[-0.5,149.5],"nice":false,"zero":false},"axis":{"values":[0,20,40,60,80,100,120,140],"tickCount":10,"title":"Sequence index"}},"x2":{"field":"i2"},"y":{"field":"j","type":"quantitative","scale":{"domain":[149.5,-0.5],"nice":false,"zero":false},"axis":{"values":[0,20,40,60,80,100,120,140],"tickCount":10,"title":null}},"y2":{"field":"j2"},"color":{"field":"c","type":"quantitative","scale":{"scheme":"viridis","domain":[0,0.31]},"legend":null},"stroke":{"field":"c","type":"quantitative","scale":{"scheme":"viridis","domain":[0,0.31]},"legend":null}}},
{"data":{"name":"hb"},"mark":"rect","encoding":{"x":{"field":"j","type":"quantitative"},"x2":{"field":"j2"},"y":{"field":"i","type":"quantitative"},"y2":{"field":"i2"},"color":{"field":"c","type":"quantitative"},"stroke":{"field":"c","type":"quantitative"}}},
{"data":{"name":"hs"},"mark":"rect","encoding":{"x":{"field":"i","type":"quantitative"},"x2":{"field":"i2"},"y":{"field":"j","type":"quantitative"},"y2":{"field":"j2"},"color":{"field":"c","type":"quantitative"}}},
{"data":{"name":"hs"},"mark":"rect","encoding":{"x":{"field":"j","type":"quantitative"},"x2":{"field":"j2"},"y":{"field":"i","type":"quantitative"},"y2":{"field":"i2"},"color":{"field":"c","type":"quantitative"}}},
{"data":{"name":"hd"},"mark":{"type":"line","strokeWidth":1.2,"color":"#440154"},"encoding":{"x":{"field":"a","type":"quantitative"},"y":{"field":"a","type":"quantitative"}}},
{"mark":{"type":"rect","fill":null,"stroke":"black","strokeWidth":1}}]}]},
{"width":13,"height":1,"mark":{"type":"rect","opacity":0}},
{"spacing":0,"bounds":"flush","vconcat":[{"width":1,"height":40,"mark":{"type":"rect","opacity":0}},
{"width":11,"height":218,"data":{"values":[{"lo":0,"hi":0.31}]},"mark":{"type":"rect","stroke":"black","strokeWidth":1,"fill":{"x1":1,"y1":1,"x2":1,"y2":0,"gradient":"linear","stops":[{"offset":0,"color":"#440154"},{"offset":0.1,"color":"#482475"},{"offset":0.2,"color":"#414487"},{"offset":0.3,"color":"#355f8d"},{"offset":0.4,"color":"#2a788e"},{"offset":0.5,"color":"#21918c"},{"offset":0.6,"color":"#22a884"},{"offset":0.7,"color":"#44bf70"},{"offset":0.8,"color":"#7ad151"},{"offset":0.9,"color":"#bddf26"},{"offset":1,"color":"#fde725"}]}},"encoding":{"y":{"field":"lo","type":"quantitative","scale":{"domain":[0,0.31],"nice":false},"axis":{"orient":"right","values":[0,0.05,0.1,0.15,0.2,0.25,0.3],"format":".2f","title":"Distance","domain":false}},"y2":{"field":"hi"}}}]}
]},
{"spacing":0,"title":{"text":"Betti numbers: hrv","anchor":"middle","dx":7,"offset":11,"fontSize":12.8},"hconcat":[
{"spacing":0,"bounds":"flush","resolve":{"scale":{"color":"independent","stroke":"independent"}},"vconcat":[{"width":1,"height":1,"mark":{"type":"rect","opacity":0}},
{"width":221,"height":265,"title":{"text":"𝛽₀ (components)","fontSize":11.8},"layer":[{"data":{"name":"b0"},"mark":"rect","encoding":{"x":{"field":"x","type":"quantitative","scale":{"domain":[-0.5,14.5],"nice":false,"zero":false},"axis":{"values":[0,2.5,5,7.5,10,12.5],"format":".1f","title":"Compositional threshold index","labelFontSize":9,"titleFontSize":10.6}},"x2":{"field":"x2"},"y":{"field":"y","type":"quantitative","scale":{"domain":[-0.5,9.5],"nice":false,"zero":false},"axis":{"values":[0,2,4,6,8],"title":"𝑝-adic threshold index","labelFontSize":9,"titleFontSize":10.6,"titlePadding":7}},"y2":{"field":"y2"},"color":{"field":"v","type":"quantitative","scale":{"domain":[1,18.875,36.75,54.625,72.5,90.375,108.25,126.125,144],"range":["#ffffcc","#ffeda0","#fed976","#feb24c","#fd8d3c","#fc4e2a","#e31a1c","#bd0026","#800026"]},"legend":null},"stroke":{"field":"v","type":"quantitative","scale":{"domain":[1,18.875,36.75,54.625,72.5,90.375,108.25,126.125,144],"range":["#ffffcc","#ffeda0","#fed976","#feb24c","#fd8d3c","#fc4e2a","#e31a1c","#bd0026","#800026"]},"legend":null}}},{"mark":{"type":"rect","fill":null,"stroke":"black","strokeWidth":1}}]}]},
{"width":13,"height":1,"mark":{"type":"rect","opacity":0}},
{"spacing":0,"bounds":"flush","vconcat":[{"width":1,"height":28,"mark":{"type":"rect","opacity":0}},
{"width":11,"height":212,"data":{"values":[{"lo":1,"hi":144}]},"mark":{"type":"rect","stroke":"black","strokeWidth":1,"fill":{"x1":1,"y1":1,"x2":1,"y2":0,"gradient":"linear","stops":[{"offset":0,"color":"#ffffcc"},{"offset":0.125,"color":"#ffeda0"},{"offset":0.25,"color":"#fed976"},{"offset":0.375,"color":"#feb24c"},{"offset":0.5,"color":"#fd8d3c"},{"offset":0.625,"color":"#fc4e2a"},{"offset":0.75,"color":"#e31a1c"},{"offset":0.875,"color":"#bd0026"},{"offset":1,"color":"#800026"}]}},"encoding":{"y":{"field":"lo","type":"quantitative","scale":{"domain":[1,144],"nice":false},"axis":{"orient":"right","values":[20,40,60,80,100,120,140],"title":null,"domain":false,"labelFontSize":9}},"y2":{"field":"hi"}}}]},
{"width":48,"height":1,"mark":{"type":"rect","opacity":0}},
{"spacing":0,"bounds":"flush","resolve":{"scale":{"color":"independent","stroke":"independent"}},"vconcat":[{"width":1,"height":1,"mark":{"type":"rect","opacity":0}},
{"width":221,"height":265,"title":{"text":"𝛽₁ (loops)","fontSize":11.8},"layer":[{"data":{"name":"b1"},"mark":"rect","encoding":{"x":{"field":"x","type":"quantitative","scale":{"domain":[-0.5,14.5],"nice":false,"zero":false},"axis":{"values":[0,2.5,5,7.5,10,12.5],"format":".1f","title":"Compositional threshold index","labelFontSize":9,"titleFontSize":10.6}},"x2":{"field":"x2"},"y":{"field":"y","type":"quantitative","scale":{"domain":[-0.5,9.5],"nice":false,"zero":false},"axis":{"values":[0,2,4,6,8],"title":null,"labelFontSize":9}},"y2":{"field":"y2"},"color":{"field":"v","type":"quantitative","scale":{"domain":[0,0.25,0.5,0.75,1,1.25,1.5,1.75,2],"range":["#f7fbff","#deebf7","#c6dbef","#9ecae1","#6baed6","#4292c6","#2171b5","#08519c","#08306b"]},"legend":null},"stroke":{"field":"v","type":"quantitative","scale":{"domain":[0,0.25,0.5,0.75,1,1.25,1.5,1.75,2],"range":["#f7fbff","#deebf7","#c6dbef","#9ecae1","#6baed6","#4292c6","#2171b5","#08519c","#08306b"]},"legend":null}}},{"mark":{"type":"rect","fill":null,"stroke":"black","strokeWidth":1}}]}]},
{"width":12,"height":1,"mark":{"type":"rect","opacity":0}},
{"spacing":0,"bounds":"flush","vconcat":[{"width":1,"height":28,"mark":{"type":"rect","opacity":0}},
{"width":11,"height":212,"data":{"values":[{"lo":0,"hi":2}]},"mark":{"type":"rect","stroke":"black","strokeWidth":1,"fill":{"x1":1,"y1":1,"x2":1,"y2":0,"gradient":"linear","stops":[{"offset":0,"color":"#f7fbff"},{"offset":0.125,"color":"#deebf7"},{"offset":0.25,"color":"#c6dbef"},{"offset":0.375,"color":"#9ecae1"},{"offset":0.5,"color":"#6baed6"},{"offset":0.625,"color":"#4292c6"},{"offset":0.75,"color":"#2171b5"},{"offset":0.875,"color":"#08519c"},{"offset":1,"color":"#08306b"}]}},"encoding":{"y":{"field":"lo","type":"quantitative","scale":{"domain":[0,2],"nice":false},"axis":{"orient":"right","values":[0,0.25,0.5,0.75,1,1.25,1.5,1.75,2],"format":".2f","title":null,"domain":false,"labelFontSize":9}},"y2":{"field":"hi"}}}]}
]}
]},
{"width":1336,"height":1,"title":{"text":"(b) HRV (𝑁 = 150, three serotypes)","offset":0,"dy":-2,"font":"Liberation Serif","fontSize":26.5},"mark":{"type":"rect","opacity":0}}
]}
